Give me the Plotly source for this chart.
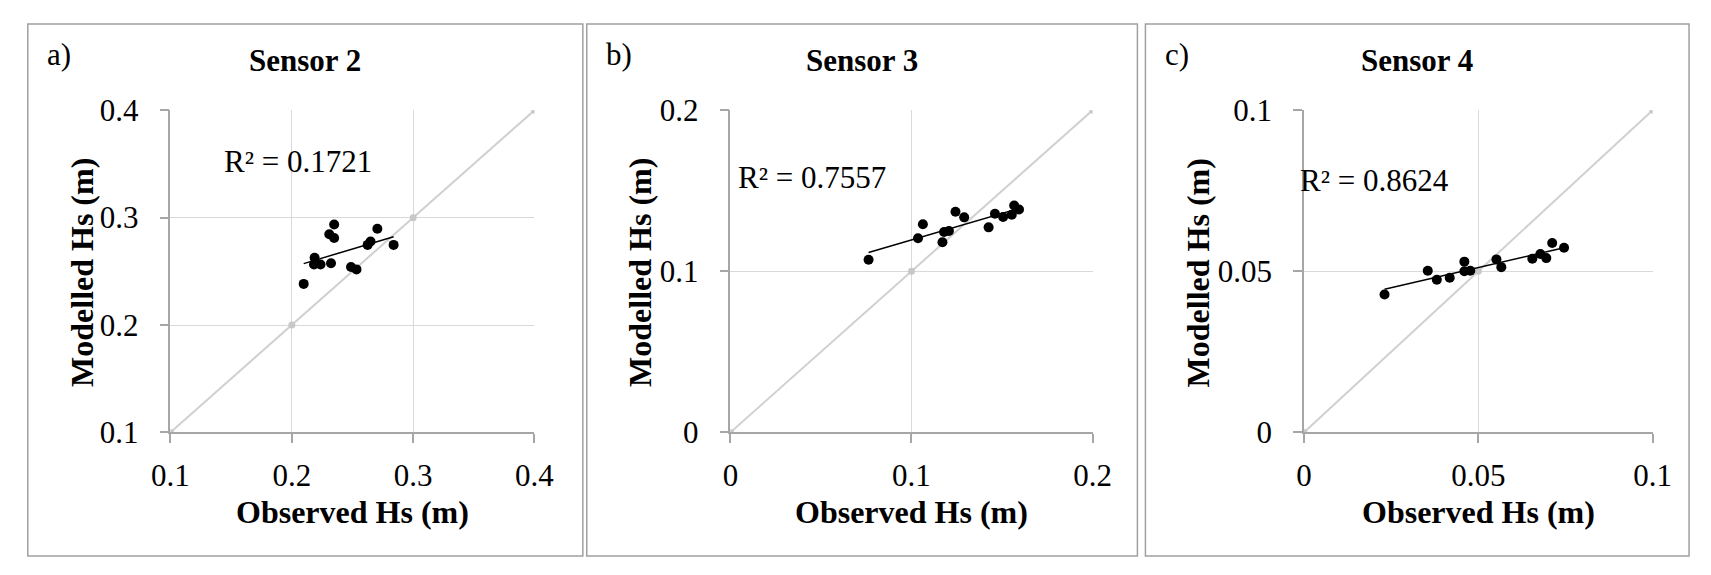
import numpy as np
import plotly.graph_objects as go

W, H = 1711, 575

# ---------------- data ----------------
panel_labels = ["a)", "b)", "c)"]
titles = ["Sensor 2", "Sensor 3", "Sensor 4"]
r2_texts = ["R² = 0.1721", "R² = 0.7557", "R² = 0.8624"]

s2_obs = [0.2098, 0.2188, 0.2183, 0.2237, 0.2323, 0.2309, 0.2349, 0.2349,
          0.2488, 0.2533, 0.2625, 0.2649, 0.2705, 0.2839]
s2_mod = [0.2383, 0.2627, 0.2563, 0.2563, 0.2575, 0.2846, 0.2811, 0.2936,
          0.2540, 0.2518, 0.2746, 0.2778, 0.2897, 0.2746]

s3_obs = [0.0763, 0.1036, 0.1063, 0.1171, 0.1180, 0.1207, 0.1243, 0.1291,
          0.1426, 0.1461, 0.1506, 0.1554, 0.1567, 0.1594]
s3_mod = [0.1072, 0.1205, 0.1292, 0.1181, 0.1244, 0.1250, 0.1370, 0.1335,
          0.1273, 0.1357, 0.1337, 0.1351, 0.1409, 0.1384]

s4_obs = [0.0231, 0.0355, 0.0381, 0.0418, 0.0460, 0.0460, 0.0477, 0.0552,
          0.0566, 0.0655, 0.0678, 0.0695, 0.0712, 0.0746]
s4_mod = [0.0428, 0.0502, 0.0474, 0.0480, 0.0530, 0.0500, 0.0502, 0.0537,
          0.0513, 0.0539, 0.0554, 0.0541, 0.0588, 0.0573]

s2_ticks = [0.1, 0.2, 0.3, 0.4]
s3_ticks = [0, 0.1, 0.2]
s4_ticks = [0, 0.05, 0.1]
s2_ticktext = ["0.1", "0.2", "0.3", "0.4"]
s3_ticktext = ["0", "0.1", "0.2"]
s4_ticktext = ["0", "0.05", "0.1"]

x_title = "Observed Hs (m)"
y_title = "Modelled Hs (m)"

# ---------------- layout geometry (pixels) ----------------
FONT = "Liberation Serif, Times New Roman, serif"
plots = [(155, 527.5), (728, 1098.6), (1315, 1671.7)]
plot_top, plot_bot = 99.3, 442.3
borders = [(9, 577), (581, 1144.5), (1152.7, 1709)]
ytitle_x = [65, 636, 1206.5]
r2_pos = [(285, 153.5), (811, 171), (1386.7, 174)]

def px(x):
    return x / W

def py(y):
    return 1 - y / H

series = [(s2_obs, s2_mod, s2_ticks, s2_ticktext),
          (s3_obs, s3_mod, s3_ticks, s3_ticktext),
          (s4_obs, s4_mod, s4_ticks, s4_ticktext)]

fig = go.Figure()
annotations = []
shapes = []

for i, (obs, mod, ticks, ticktext) in enumerate(series):
    xa = "x" if i == 0 else f"x{i+1}"
    ya = "y" if i == 0 else f"y{i+1}"
    # 1:1 line
    fig.add_trace(go.Scatter(x=ticks, y=ticks, mode="lines+markers",
                             line=dict(color="#d0d0d0", width=2),
                             marker=dict(color="#c8c8c8", size=7),
                             xaxis=xa, yaxis=ya, showlegend=False, hoverinfo="skip"))
    # data points
    fig.add_trace(go.Scatter(x=obs, y=mod, mode="markers",
                             marker=dict(color="black", size=10),
                             xaxis=xa, yaxis=ya, showlegend=False))
    # linear trendline
    o = np.array(obs)
    m, c = np.polyfit(o, np.array(mod), 1)
    tx = [o.min(), o.max()]
    fig.add_trace(go.Scatter(x=tx, y=[m * v + c for v in tx], mode="lines",
                             line=dict(color="black", width=1.5),
                             xaxis=xa, yaxis=ya, showlegend=False, hoverinfo="skip"))

    axis_common = dict(range=[ticks[0], ticks[-1]], tickvals=ticks, ticktext=ticktext,
                       showgrid=True, gridcolor="#d9d9d9", gridwidth=1.3,
                       zeroline=False, showline=True, linecolor="#a6a6a6", linewidth=1.5,
                       ticks="outside", ticklen=9, tickcolor="#a6a6a6", tickwidth=1.5,
                       tickfont=dict(family=FONT, size=31, color="black"))
    x0, x1 = plots[i]
    xkey = "xaxis" if i == 0 else f"xaxis{i+1}"
    ykey = "yaxis" if i == 0 else f"yaxis{i+1}"
    fig.update_layout({
        xkey: dict(domain=[px(x0), px(x1)], anchor=ya, ticklabelstandoff=6, **axis_common),
        ykey: dict(domain=[py(plot_bot), py(plot_top)], anchor=xa, ticklabelstandoff=15, **axis_common),
    })

    bx0, bx1 = borders[i]
    shapes.append(dict(type="rect", xref="paper", yref="paper",
                       x0=px(bx0), x1=px(bx1), y0=py(574), y1=py(7.5),
                       line=dict(color="#a0a0a0", width=1.5), layer="below"))
    # panel label
    annotations.append(dict(text=panel_labels[i], x=px(bx0 + 18), y=py(40),
                            xref="paper", yref="paper", xanchor="left", yanchor="middle",
                            showarrow=False, font=dict(family=FONT, size=31, color="black")))
    # title
    annotations.append(dict(text=f"<b>{titles[i]}</b>", x=px((bx0 + bx1) / 2), y=py(46),
                            xref="paper", yref="paper", xanchor="center", yanchor="middle",
                            showarrow=False, font=dict(family=FONT, size=31, color="black")))
    # x title
    annotations.append(dict(text=f"<b>{x_title}</b>", x=px((x0 + x1) / 2), y=py(527),
                            xref="paper", yref="paper", xanchor="center", yanchor="middle",
                            showarrow=False, font=dict(family=FONT, size=32, color="black")))
    # y title
    annotations.append(dict(text=f"<b>{y_title}</b>", x=px(ytitle_x[i]), y=py(272),
                            xref="paper", yref="paper", xanchor="center", yanchor="middle",
                            textangle=-90, showarrow=False,
                            font=dict(family=FONT, size=32, color="black")))
    # R2
    rx, ry = r2_pos[i]
    annotations.append(dict(text=r2_texts[i], x=px(rx), y=py(ry),
                            xref="paper", yref="paper", xanchor="center", yanchor="middle",
                            showarrow=False, font=dict(family=FONT, size=31, color="black")))

fig.update_layout(width=W, height=H, margin=dict(l=0, r=0, t=0, b=0, pad=0),
                  paper_bgcolor="white", plot_bgcolor="white",
                  annotations=annotations, shapes=shapes, showlegend=False)

fig.write_html("out.html")
